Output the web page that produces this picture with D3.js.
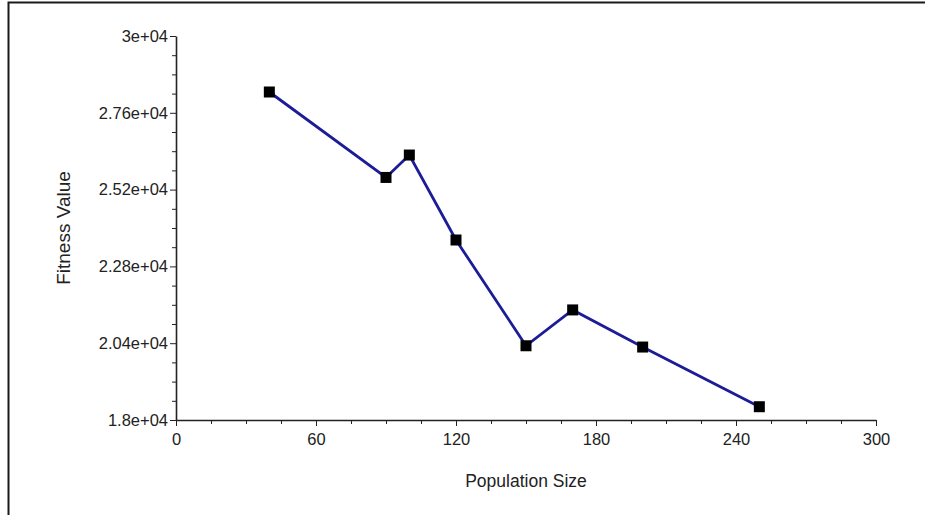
<!DOCTYPE html>
<html>
<head>
<meta charset="utf-8">
<script src="https://cdn.jsdelivr.net/npm/d3@7"></script>
<style>
  body { margin: 0; background: #fff; }
  svg text { font-family: "Liberation Sans", Arial, sans-serif; fill: #222; }
</style>
</head>
<body>
<div id="chart"></div>
<script>
// data
var popSize = [40, 90, 100, 120, 150, 170, 200, 250]
var fitness = [28250, 25580, 26280, 23625, 20320, 21440, 20280, 18415]

var xTicks = [0, 60, 120, 180, 240, 300]
var yTicks = [18000, 20400, 22800, 25200, 27600, 30000]
var yTickLabels = ["1.8e+04", "2.04e+04", "2.28e+04", "2.52e+04", "2.76e+04", "3e+04"]

var width = 925
var height = 515
var plotLeft = 176, plotRight = 876, plotTop = 36, plotBottom = 420

var svg = d3.select("#chart")
	.append("svg")
	.attr("width", width)
	.attr("height", height)

// frame (only the top and left edges are visible in the picture)
svg.append("rect")
	.attr("x", 8.5)
	.attr("y", 2.5)
	.attr("width", 2000)
	.attr("height", 2000)
	.style("fill", "none")
	.style("stroke", "#1a1a1a")
	.style("stroke-width", 2)

var x = d3.scaleLinear().domain([0, 300]).range([plotLeft, plotRight])
var y = d3.scaleLinear().domain([18000, 30000]).range([plotBottom, plotTop])

// X axis
var xAxis = svg.append("g")
	.attr("transform", "translate(0," + plotBottom + ")")
	.call(d3.axisBottom(x).tickValues(xTicks).tickSize(6).tickSizeOuter(0).tickPadding(7).tickFormat(d3.format("d")))
xAxis.selectAll("g.tick text").style("font-size", "16.5px")
xAxis.append("g").selectAll("line")
	.data(d3.range(0, 301, 15).filter(function (d) { return d % 60 != 0 }))
	.join("line")
	.attr("x1", function (d) { return x(d) + 0.5 })
	.attr("x2", function (d) { return x(d) + 0.5 })
	.attr("y1", 0).attr("y2", 4)
	.attr("stroke", "#222")

// Y axis
var yAxis = svg.append("g")
	.attr("transform", "translate(" + plotLeft + ",0)")
	.call(d3.axisLeft(y).tickValues(yTicks).tickSize(6).tickSizeOuter(0).tickPadding(2)
		.tickFormat(function (d, i) { return yTickLabels[i] }))
yAxis.selectAll("g.tick text").style("font-size", "16.5px")
yAxis.append("g").selectAll("line")
	.data(d3.range(18000, 30001, 600).filter(function (d) { return (d - 18000) % 2400 != 0 }))
	.join("line")
	.attr("x1", -4).attr("x2", 0)
	.attr("y1", function (d) { return y(d) + 0.5 })
	.attr("y2", function (d) { return y(d) + 0.5 })
	.attr("stroke", "#222")

svg.selectAll(".domain").attr("stroke", "#222").attr("stroke-width", 1.6)
svg.selectAll(".tick line").attr("stroke", "#222")

// the line
var pts = popSize.map(function (d, i) { return { x: d, y: fitness[i] } })
svg.append("path")
	.datum(pts)
	.attr("fill", "none")
	.attr("stroke", "#1c1c98")
	.attr("stroke-width", 2.8)
	.attr("d", d3.line()
		.x(function (d) { return x(d.x) })
		.y(function (d) { return y(d.y) }))

// square markers
var m = 11
svg.selectAll("rect.pt")
	.data(pts)
	.join("rect")
	.attr("class", "pt")
	.attr("x", function (d) { return x(d.x) - m / 2 })
	.attr("y", function (d) { return y(d.y) - m / 2 })
	.attr("width", m)
	.attr("height", m)
	.attr("fill", "#000")

// axis titles
svg.append("text")
	.attr("x", (plotLeft + plotRight) / 2)
	.attr("y", 487)
	.attr("text-anchor", "middle")
	.style("font-size", "17.5px")
	.text("Population Size")

svg.append("text")
	.attr("transform", "translate(70," + (plotTop + plotBottom) / 2 + ") rotate(-90)")
	.attr("text-anchor", "middle")
	.style("font-size", "19px")
	.text("Fitness Value")
</script>
</body>
</html>
